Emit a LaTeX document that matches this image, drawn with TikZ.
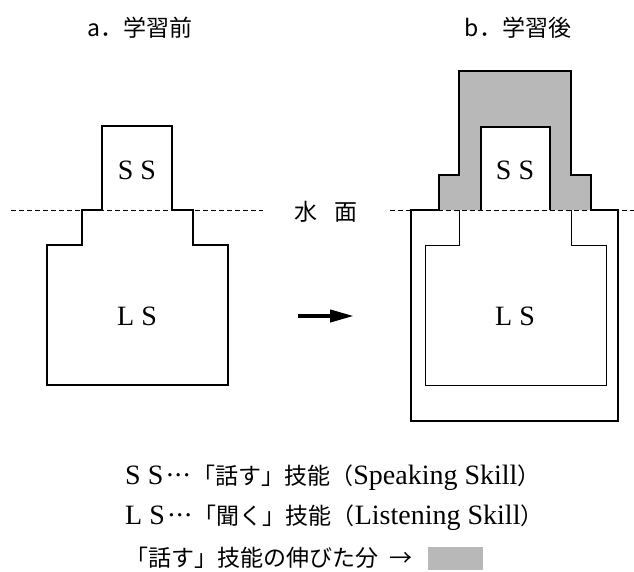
\documentclass[tikz,border=0pt]{standalone}
\usepackage{fontspec}
\setmainfont{Liberation Serif}
\newfontfamily\jpfam{Noto Sans CJK JP}
\usetikzlibrary{arrows.meta}
\newcommand\latsz{\fontsize{28}{32}\selectfont}
\newcommand\jpsz{\jpfam\fontsize{23}{30}\selectfont}
\newcommand\mdots{\kern2pt·\kern-1pt·\kern-1pt·\kern1pt}
\begin{document}
\begin{tikzpicture}[x=1pt,y=-1pt,
  thickline/.style={line width=2pt, line join=miter},
  thinline/.style={line width=1pt},
  water/.style={line width=1pt, dash pattern=on 5pt off 3pt},
  shade/.style={fill=black!28},
  lbl/.style={inner sep=0pt, font=\latsz},
  jlbl/.style={inner sep=0pt, font=\jpsz},
  legend/.style={inner sep=0pt, anchor=west}]
\useasboundingbox[fill=white] (0,0) rectangle (634,572);

% titles
\node[jlbl] (tA) at (140,28) {a．学習前};
\node[jlbl] (tB) at (518,28) {b．学習後};

% ---- left figure
\draw[water] (11,210) -- (263,210);
\draw[thickline] (82,210) -- (102,210) -- (102,126) -- (172,126) -- (172,210)
  -- (193,210) -- (193,245) -- (228,245) -- (228,385) -- (47,385) -- (47,245)
  -- (82,245) -- cycle;
\node[lbl] (ssA) at (137,170) {S S};
\node[lbl] (lsA) at (137,316) {L S};

% water surface label
\node[jlbl] (wl) at (326,212) {水\hspace{0.7em}面};

% arrow
\coordinate (arrS) at (298,316);
\coordinate (arrE) at (354,316);
\draw[line width=4pt, -{Triangle[length=24pt,width=12pt]}] (arrS) -- (arrE);

% ---- right figure
\fill[shade, even odd rule] (439,210) -- (439,175) -- (459,175) -- (459,71)
  -- (571,71) -- (571,175) -- (591,175) -- (591,210) -- cycle
  (481,127) rectangle (550,210);
\draw[thinline] (459,210) -- (459,245) -- (425,245) -- (425,385) -- (606,385)
  -- (606,245) -- (571,245) -- (571,210);
\draw[water] (390,210) -- (634,210);
\draw[thickline] (439,210) -- (411,210) -- (411,421) -- (618,421) -- (618,210) -- (591,210);
\draw[thickline] (439,210) -- (439,175) -- (459,175) -- (459,71) -- (571,71)
  -- (571,175) -- (591,175) -- (591,210);
\draw[thickline] (481,210) -- (481,127) -- (550,127) -- (550,210);
\node[lbl] (ssB) at (515,170) {S S};
\node[lbl] (lsB) at (515,316) {L S};

% ---- legend
\node[legend] (l1) at (125,478) {\latsz S S\mdots{\jpsz 「話す」技能（}Speaking Skill{\jpsz ）}};
\node[legend] (l2) at (125,518) {\latsz L S\mdots{\jpsz 「聞く」技能（}Listening Skill{\jpsz ）}};
\node[legend] (l3) at (125,558) {\jpsz 「話す」技能の伸びた分\hspace{0.5em}→};
\node[shade, inner sep=0pt, minimum width=55pt, minimum height=23pt, anchor=west] (sw) at (428,558.5) {};
\end{tikzpicture}
\end{document}
